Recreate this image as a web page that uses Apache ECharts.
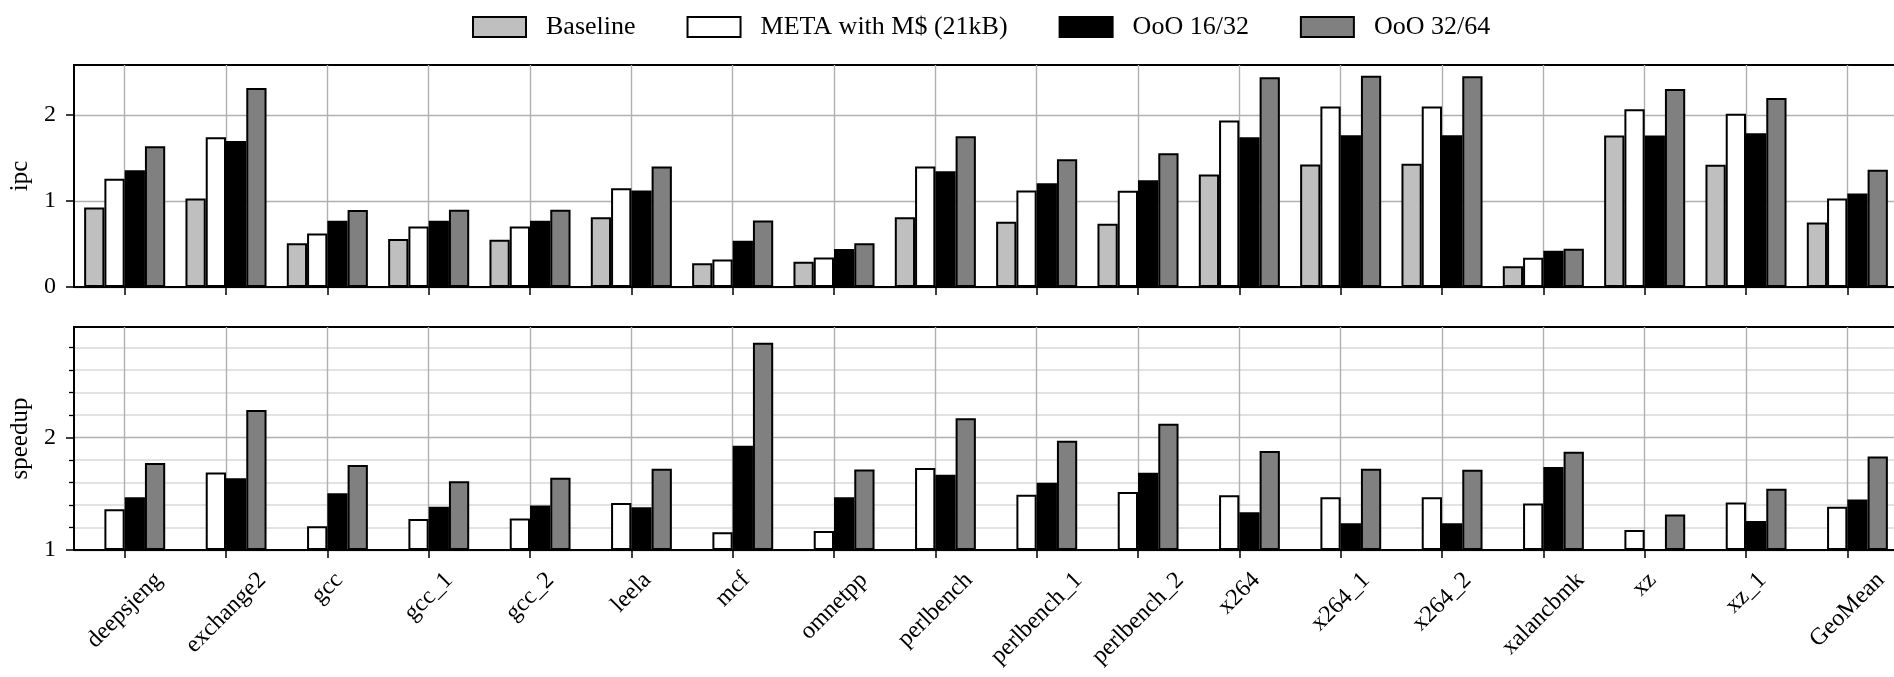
<!DOCTYPE html>
<html><head><meta charset="utf-8">
<script src="https://cdn.jsdelivr.net/npm/echarts@6/dist/echarts.min.js"></script>
<style>html,body{margin:0;padding:0;background:#fff}#c{width:1894px;height:677px}</style>
</head><body><div id="c"></div><script>
const categories = ['deepsjeng','exchange2','gcc','gcc_1','gcc_2','leela','mcf','omnetpp','perlbench','perlbench_1','perlbench_2','x264','x264_1','x264_2','xalancbmk','xz','xz_1','GeoMean'];
const seriesNames = ['Baseline','META with M$ (21kB)','OoO 16/32','OoO 32/64'];
const ipcBaseline = [0.925,1.029,0.507,0.557,0.549,0.812,0.275,0.294,0.812,0.758,0.735,1.308,1.424,1.431,0.240,1.760,1.420,0.750];
const ipcMeta     = [1.257,1.741,0.623,0.704,0.704,1.149,0.321,0.344,1.400,1.122,1.118,1.934,2.097,2.097,0.340,2.066,2.012,1.029];
const ipcOoO16    = [1.358,1.698,0.770,0.770,0.770,1.122,0.538,0.441,1.346,1.207,1.242,1.741,1.764,1.764,0.422,1.760,1.787,1.087];
const ipcOoO32    = [1.636,2.313,0.894,0.897,0.897,1.400,0.774,0.507,1.752,1.486,1.555,2.437,2.456,2.449,0.445,2.302,2.197,1.362];
const speedupBaseline = categories.map(() => null); // baseline slot left empty in the speedup panel
const speedupMeta  = [1.362,1.688,1.211,1.276,1.279,1.418,1.157,1.169,1.727,1.490,1.516,1.487,1.469,1.469,1.412,1.178,1.421,1.383];
const speedupOoO16 = [1.469,1.638,1.504,1.383,1.395,1.380,1.926,1.469,1.668,1.596,1.685,1.335,1.237,1.237,1.736,1.000,1.258,1.448];
const speedupOoO32 = [1.772,2.243,1.754,1.611,1.641,1.721,2.840,1.715,2.169,1.970,2.122,1.878,1.721,1.712,1.872,1.315,1.543,1.831];
const ipcTicks = [0,1,2];
const speedupTicks = [1,2];
const speedupMinorTicks = [1.2,1.4,1.6,1.8,2.2,2.4,2.6,2.8];

const FONT = 'Liberation Serif';
const colors = ['#bfbfbf','#ffffff','#000000','#808080'];
const LBL = 24;
const ctx = document.createElement('canvas').getContext('2d');
ctx.font = LBL + 'px "' + FONT + '"';
const rich = {};
categories.forEach((c, i) => {
  const w = ctx.measureText(c).width;
  const p = (w + LBL) / 2;
  rich['c' + i] = {fontFamily: FONT, fontSize: LBL, lineHeight: LBL, padding: [p, p, 0, 0], color: '#000'};
});

function makeX(gridIndex, showLabels) {
  return {
    type: 'category', gridIndex, data: categories, boundaryGap: true, position: 'bottom',
    axisLine: {show: true, onZero: false, lineStyle: {color: '#000', width: 2}},
    axisTick: {show: true, alignWithLabel: true, interval: 0, length: 8, lineStyle: {color: '#000', width: 1.5}},
    splitLine: {show: true, alignWithLabel: true, interval: 0, lineStyle: {color: '#b0b0b0', width: 1.4}},
    axisLabel: showLabels ? {show: true, interval: 0, rotate: 45, align: 'center', verticalAlign: 'middle', margin: 18,
      formatter: (v, i) => '{c' + i + '|' + v + '}', rich} : {show: false}
  };
}
const tickLabel = {fontFamily: FONT, fontSize: 24, color: '#000', margin: 18};
const nameStyle = {fontFamily: FONT, fontSize: 25, color: '#000'};

function bar(name, data, color, xi, yi) {
  return {type: 'bar', name, data, xAxisIndex: xi, yAxisIndex: yi, barGap: '0%', barCategoryGap: '20%', clip: true,
    itemStyle: {color, borderColor: '#000', borderWidth: 2}, emphasis: {disabled: true}, silent: true};
}

const option = {
  animation: false,
  backgroundColor: '#fff',
  legend: {
    data: seriesNames, left: 467, top: 9, icon: 'rect', itemWidth: 53, itemHeight: 20, itemGap: 51,
    selectedMode: false,
    itemStyle: {borderColor: '#000', borderWidth: 2},
    textStyle: {fontFamily: FONT, fontSize: 26, color: '#000', lineHeight: 26, padding: [0, 0, 0, 15]}
  },
  grid: [
    {left: 74, top: 65, width: 1824, height: 222, show: true, borderColor: '#000', borderWidth: 2, backgroundColor: 'transparent', outerBoundsMode: 'none'},
    {left: 74, top: 327, width: 1824, height: 223, show: true, borderColor: '#000', borderWidth: 2, backgroundColor: 'transparent', outerBoundsMode: 'none'}
  ],
  xAxis: [makeX(0, false), makeX(1, true)],
  yAxis: [
    {gridIndex: 0, type: 'value', position: 'left', min: 0, max: 2.58, interval: 1,
      name: 'ipc', nameLocation: 'middle', nameGap: 40, nameTextStyle: nameStyle,
      axisLine: {show: true, lineStyle: {color: '#000', width: 2}},
      axisTick: {show: true, length: 8, customValues: ipcTicks, lineStyle: {color: '#000', width: 1.5}},
      axisLabel: Object.assign({customValues: ipcTicks}, tickLabel),
      splitLine: {show: true, lineStyle: {color: '#b0b0b0', width: 1.4}}},
    {gridIndex: 1, type: 'value', position: 'left', offset: 0, min: 1, max: 2.98, interval: 0.2,
      axisLine: {show: false},
      axisTick: {show: true, length: 5, customValues: speedupMinorTicks, lineStyle: {color: '#000', width: 1.3}},
      axisLabel: {show: false},
      splitLine: {show: true, lineStyle: {color: '#d9d9d9', width: 1.6}}},
    {gridIndex: 1, type: 'value', position: 'left', offset: 0, min: 1, max: 2.98, interval: 1, startValue: 1,
      name: 'speedup', nameLocation: 'middle', nameGap: 40, nameTextStyle: nameStyle,
      axisLine: {show: true, lineStyle: {color: '#000', width: 2}},
      axisTick: {show: true, length: 8, customValues: speedupTicks, lineStyle: {color: '#000', width: 1.5}},
      axisLabel: Object.assign({customValues: speedupTicks}, tickLabel),
      splitLine: {show: true, lineStyle: {color: '#b0b0b0', width: 1.4}}}
  ],
  series: [
    bar(seriesNames[0], ipcBaseline, colors[0], 0, 0),
    bar(seriesNames[1], ipcMeta, colors[1], 0, 0),
    bar(seriesNames[2], ipcOoO16, colors[2], 0, 0),
    bar(seriesNames[3], ipcOoO32, colors[3], 0, 0),
    bar(seriesNames[0], speedupBaseline, colors[0], 1, 2),
    bar(seriesNames[1], speedupMeta, colors[1], 1, 2),
    bar(seriesNames[2], speedupOoO16, colors[2], 1, 2),
    bar(seriesNames[3], speedupOoO32, colors[3], 1, 2)
  ]
};
const chart = echarts.init(document.getElementById('c'), null, {renderer: 'canvas'});
chart.setOption(option);
</script></body></html>
